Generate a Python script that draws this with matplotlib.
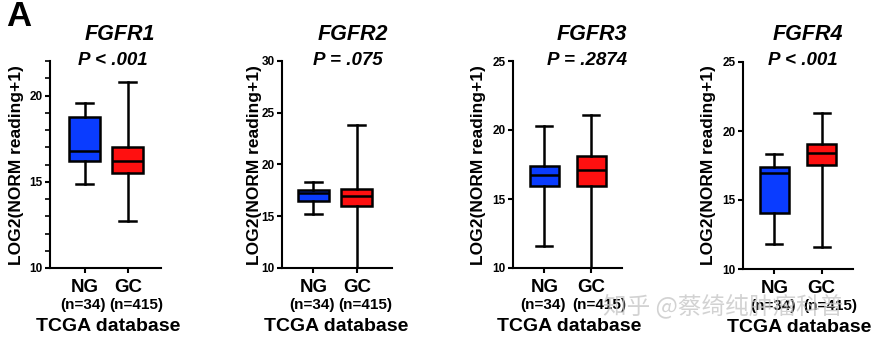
import matplotlib
matplotlib.use('Agg')
import matplotlib.pyplot as plt
from matplotlib.ticker import MultipleLocator

plt.rcParams['font.family'] = ['Liberation Sans', 'DejaVu Sans']
plt.rcParams['font.weight'] = 'bold'

# data (whislo, q1, median, q3, whishi)
genes = ['FGFR1', 'FGFR2', 'FGFR3', 'FGFR4']
pvals = ['P < .001', 'P = .075', 'P = .2874', 'P < .001']
groups = ['NG', 'GC']
counts = ['(n=34)', '(n=415)']
ng_box = [[14.85, 16.18, 16.80, 18.77, 19.58],
          [15.26, 16.50, 17.25, 17.58, 18.35],
          [11.60, 15.97, 16.74, 17.37, 20.31],
          [11.79, 14.03, 16.93, 17.37, 18.33]]
gc_box = [[12.73, 15.48, 16.18, 17.00, 20.77],
          [10.02, 16.03, 16.93, 17.64, 23.77],
          [10.02, 15.97, 17.10, 18.09, 21.09],
          [11.57, 17.51, 18.38, 19.06, 21.28]]
ylims = [(10, 22), (10, 30), (10, 25), (10, 25)]
yticks = [[10, 15, 20], [10, 15, 20, 25, 30], [10, 15, 20, 25], [10, 15, 20, 25]]

# layout (pixels of the 891x345 picture)
W, H = 891, 345
panels = [(50, 161, 61, 268), (282, 392, 61, 268), (513, 622, 61, 268), (743, 853, 62, 269)]
xlims = [(0.19, 2.77), (0.28, 2.81), (0.33, 2.66), (0.34, 2.66)]
widths = [0.72, 0.72, 0.62, 0.62]
title_x = [120, 353, 592, 808]
p_x = [113, 348, 587, 803]
ylab_x = [17, 255, 478, 708]
colors = ['#0a3cff', '#ff1010']

fig = plt.figure(figsize=(W / 100, H / 100), dpi=100)

for i in range(4):
    l, r, t, b = panels[i]
    ax = fig.add_axes([l / W, 1 - b / H, (r - l) / W, (b - t) / H])
    stats = []
    for vals in (ng_box[i], gc_box[i]):
        stats.append(dict(whislo=vals[0], q1=vals[1], med=vals[2], q3=vals[3],
                          whishi=vals[4], fliers=[]))
    bp = ax.bxp(stats, positions=[1, 2], widths=widths[i], patch_artist=True,
                showfliers=False, capwidths=widths[i] * 0.55,
                boxprops=dict(linewidth=1.8, edgecolor='black'),
                medianprops=dict(color='black', linewidth=1.8),
                whiskerprops=dict(color='black', linewidth=1.8),
                capprops=dict(color='black', linewidth=1.8))
    for patch, c in zip(bp['boxes'], colors):
        patch.set_facecolor(c)

    ax.set_xlim(*xlims[i])
    ax.set_ylim(*ylims[i])
    ax.set_yticks(yticks[i])
    if i == 0:
        ax.yaxis.set_minor_locator(MultipleLocator(1))
        ax.tick_params(axis='y', which='minor', length=3.5, width=1.2)
    ax.set_xticks([1, 2])
    ax.set_xticklabels(groups, fontsize=13.5, fontweight='bold')
    ax.tick_params(axis='x', length=3.6, width=1.5, pad=4.5)
    ax.tick_params(axis='y', which='major', length=3.6, width=1.5, pad=1.5,
                   labelsize=8.5)
    for lab in ax.get_yticklabels():
        lab.set_fontweight('bold')
    for s in ['top', 'right']:
        ax.spines[s].set_visible(False)
    for s in ['left', 'bottom']:
        ax.spines[s].set_linewidth(1.5)
    ax.spines['bottom'].set_zorder(0)

    for pos, txt, dx in zip([1, 2], counts, [-1.0, 6.0]):
        ax.annotate(txt, xy=(pos, 0), xycoords=('data', 'axes fraction'),
                    xytext=(dx, -26.6), textcoords='offset points',
                    ha='center', va='center', fontsize=11, fontweight='bold')
    ax.annotate('TCGA database', xy=(1.5, 0), xycoords=('data', 'axes fraction'),
                xytext=(1, -45.4), textcoords='offset points',
                ha='center', va='baseline', fontsize=14, fontweight='bold')

    fig.text(title_x[i] / W, 1 - 40 / H, genes[i], ha='center', va='baseline',
             fontsize=15.5, fontweight='bold', fontstyle='italic')
    fig.text(p_x[i] / W, 1 - 65 / H, pvals[i], ha='center', va='baseline',
             fontsize=13.5, fontweight='bold', fontstyle='italic')
    fig.text(ylab_x[i] / W, 1 - 165 / H, 'LOG2(NORM reading+1)', rotation=90,
             ha='center', va='center', fontsize=12.5, fontweight='bold')

fig.text(19 / W, 1 - 17 / H, 'A', ha='center', va='center', fontsize=25,
         fontweight='bold')

# watermark
fig.text(603 / W, 1 - 306 / H, '知乎 @蔡绮纯肿瘤科普', ha='left', va='center',
         fontsize=17, family=['Noto Sans CJK SC', 'DejaVu Sans'],
         fontweight='normal', color='#c4c4c4', alpha=0.75, zorder=10)

fig.savefig('out.png', dpi=100)
